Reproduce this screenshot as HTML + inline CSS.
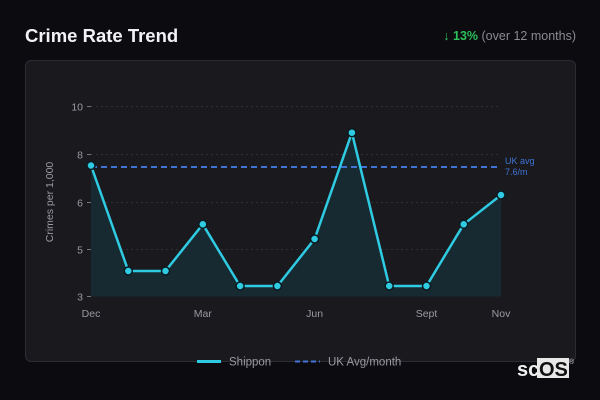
<!DOCTYPE html>
<html><head><meta charset="utf-8"><style>
html,body{margin:0;padding:0;}
body{width:600px;height:400px;background:#0c0b10;position:relative;overflow:hidden;font-family:"Liberation Sans",sans-serif;}
.title{position:absolute;left:25px;top:25px;font-size:18.5px;font-weight:bold;color:#f2f2f4;}
.stat{position:absolute;right:24px;top:29px;font-size:12.5px;color:#8a8a92;white-space:nowrap;}
.stat .g{color:#2fbf5a;font-weight:bold;}
.panel{position:absolute;left:25px;top:60px;width:549px;height:300px;background:#19191e;border:1px solid #2c2c33;border-radius:6px;}
svg{position:absolute;left:0;top:0;}
</style></head><body>
<div class="title">Crime Rate Trend</div>
<div class="stat"><span class="g">↓ 13%</span> (over 12 months)</div>
<div class="panel"></div>
<svg width="600" height="400" viewBox="0 0 600 400" font-family="Liberation Sans, sans-serif">
  <g stroke="#303038" stroke-width="1" stroke-dasharray="2,3">
    <line x1="91" y1="106.5" x2="501" y2="106.5"/>
    <line x1="91" y1="154.5" x2="501" y2="154.5"/>
    <line x1="91" y1="202.5" x2="501" y2="202.5"/>
    <line x1="91" y1="249.5" x2="501" y2="249.5"/>
  </g>
  <g stroke="#777" stroke-width="1">
    <line x1="87" y1="106.5" x2="91" y2="106.5"/>
    <line x1="87" y1="154.5" x2="91" y2="154.5"/>
    <line x1="87" y1="202.5" x2="91" y2="202.5"/>
    <line x1="87" y1="249.5" x2="91" y2="249.5"/>
    <line x1="87" y1="296.5" x2="91" y2="296.5"/>
  </g>
  <g fill="#9a9aa2" font-size="10.5" text-anchor="end">
    <text x="83" y="110.5">10</text>
    <text x="83" y="158.5">8</text>
    <text x="83" y="206.5">6</text>
    <text x="83" y="253.5">5</text>
    <text x="83" y="300.5">3</text>
  </g>
  <text transform="translate(53,202) rotate(-90)" fill="#9a9aa2" font-size="10.5" text-anchor="middle">Crimes per 1,000</text>
  <g fill="#9a9aa2" font-size="10.5" text-anchor="middle">
    <text x="91" y="317">Dec</text>
    <text x="202.8" y="317">Mar</text>
    <text x="314.6" y="317">Jun</text>
    <text x="426.5" y="317">Sept</text>
    <text x="501" y="317">Nov</text>
  </g>
  <path d="M91,165.5 L128.3,271 L165.5,271 L202.8,224.3 L240.1,286 L277.4,286 L314.6,239 L351.9,132.7 L389.2,286 L426.5,286 L463.7,224.3 L501,195 L501,296.5 L91,296.5 Z" fill="#182a31"/>
  <line x1="91" y1="167" x2="501" y2="167" stroke="#3f74d6" stroke-width="2" stroke-dasharray="6,4"/>
  <text x="505" y="164" fill="#3f74d6" font-size="9">UK avg</text>
  <text x="505" y="175" fill="#3f74d6" font-size="9">7.6/m</text>
  <polyline points="91,165.5 128.3,271 165.5,271 202.8,224.3 240.1,286 277.4,286 314.6,239 351.9,132.7 389.2,286 426.5,286 463.7,224.3 501,195" fill="none" stroke="#2ecbe2" stroke-width="2.5" stroke-linejoin="round"/>
  <g fill="#2ecbe2" stroke="#0b1a20" stroke-width="1.5">
    <circle cx="91" cy="165.5" r="4"/>
    <circle cx="128.3" cy="271" r="4"/>
    <circle cx="165.5" cy="271" r="4"/>
    <circle cx="202.8" cy="224.3" r="4"/>
    <circle cx="240.1" cy="286" r="4"/>
    <circle cx="277.4" cy="286" r="4"/>
    <circle cx="314.6" cy="239" r="4"/>
    <circle cx="351.9" cy="132.7" r="4"/>
    <circle cx="389.2" cy="286" r="4"/>
    <circle cx="426.5" cy="286" r="4"/>
    <circle cx="463.7" cy="224.3" r="4"/>
    <circle cx="501" cy="195" r="4"/>
  </g>
  <line x1="197" y1="361.5" x2="221" y2="361.5" stroke="#2ecbe2" stroke-width="3"/>
  <text x="229" y="365.5" fill="#9a9aa2" font-size="11.5">Shippon</text>
  <line x1="295" y1="361.5" x2="320" y2="361.5" stroke="#3f74d6" stroke-width="2" stroke-dasharray="5,3"/>
  <text x="328" y="365.5" fill="#9a9aa2" font-size="11.5">UK Avg/month</text>
  <text x="517" y="376" fill="#f0f0f0" font-size="20" font-weight="bold">sc</text>
  <rect x="537" y="358" width="32" height="20" fill="#e8e8e8"/>
  <text x="539" y="376" fill="#111" font-size="20" font-weight="bold">OS</text>
  <text x="569" y="364" fill="#cccccc" font-size="7">®</text>
</svg>
</body></html>
